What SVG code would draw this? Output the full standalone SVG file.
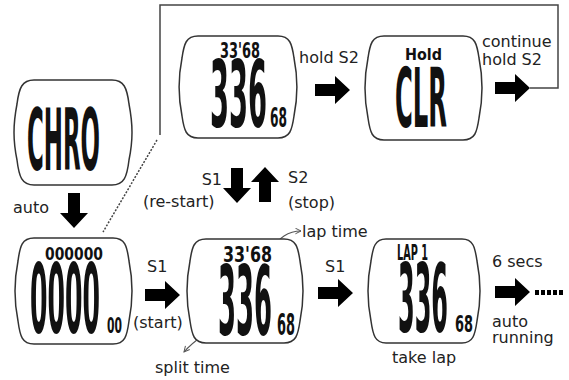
<svg xmlns="http://www.w3.org/2000/svg" width="569" height="380" viewBox="0 0 569 380">
<style>
.scr{fill:#fff;stroke:#333;stroke-width:1.5}
.lcd{font-family:"DejaVu Sans Condensed","DejaVu Sans",sans-serif;font-weight:bold;fill:#111}
.lbl{font-family:"DejaVu Sans","Liberation Sans",sans-serif;font-size:16px;fill:#222}
.ln{fill:none;stroke:#444;stroke-width:1.5}
.thin{fill:none;stroke:#555;stroke-width:1.1}
</style>
<defs>
<path id="ar" d="M0,-6 H20 V-14 L35,0 L20,14 V6 H0 Z" fill="#000"/>
<marker id="mh" viewBox="0 0 10 10" refX="9" refY="5" markerWidth="7" markerHeight="7" orient="auto" markerUnits="userSpaceOnUse">
<path d="M1,1 L9,5 L1,9" fill="none" stroke="#555" stroke-width="1.4"/>
</marker>
</defs>
<rect width="569" height="380" fill="#fff"/>

<g id="connectors">
<path class="ln" d="M160,135 V5 H558 V88 H530"/>
<path class="ln" d="M157,140 L103,232" stroke-dasharray="2 1.5"/>
<use href="#ar" transform="translate(74,193) rotate(90)"/>
<use href="#ar" transform="translate(145,295)"/>
<use href="#ar" transform="translate(315,90)"/>
<use href="#ar" transform="translate(495,88)"/>
<use href="#ar" transform="translate(318,293)"/>
<use href="#ar" transform="translate(495,292)"/>
<use href="#ar" transform="translate(237,168) rotate(90)"/>
<use href="#ar" transform="translate(265,202) rotate(-90)"/>
<path d="M535,292.5 H565" stroke="#000" stroke-width="5" stroke-dasharray="4 2"/>
<path class="thin" d="M273,250 C277,238 289,231 301,231" marker-end="url(#mh)"/>
<path class="thin" d="M218,324 C206,334 194,340 184,352" marker-end="url(#mh)"/>
</g>

<g id="chro">
<path class="scr" d="M34,80 H112 C124,80 127,88 129,104 C133,125 133,140 129,160 C127,177 124,185 112,185 H34 C22,185 19,177 17,160 C13,140 13,125 17,104 C19,88 22,80 34,80 Z"/>
<text class="lcd" transform="translate(27,170) scale(0.2956,1)" font-size="86" textLength="247" lengthAdjust="spacingAndGlyphs">CHRO</text>
</g>

<g id="running-top">
<path class="scr" d="M198,36 H278 C290,36 292,44 294,58 C298,78 298,96 294,116 C292,130 290,138 278,138 H198 C186,138 184,130 182,116 C178,96 178,78 182,58 C184,44 186,36 198,36 Z"/>
<text class="lcd" transform="translate(220,58) scale(0.692,1)" font-size="20.6" textLength="57.8" lengthAdjust="spacingAndGlyphs">33'68</text>
<text class="lcd" transform="translate(210,127) scale(0.33,1)" font-size="92" textLength="172.7" lengthAdjust="spacingAndGlyphs">336</text>
<text class="lcd" transform="translate(270,127) scale(0.503,1)" font-size="27" textLength="33.8" lengthAdjust="spacingAndGlyphs">68</text>
</g>

<g id="hold-clr">
<path class="scr" d="M384,36 H463 C475,36 477,44 479,58 C483,78 483,98 479,118 C477,132 475,140 463,140 H384 C372,140 370,132 368,118 C364,98 364,78 368,58 C370,44 372,36 384,36 Z"/>
<text class="lcd" transform="translate(405,60) scale(0.966,1)" font-size="16.5" textLength="38.3" lengthAdjust="spacingAndGlyphs">Hold</text>
<text class="lcd" transform="translate(395,127) scale(0.329,1)" font-size="82" textLength="158" lengthAdjust="spacingAndGlyphs">CLR</text>
</g>

<g id="zero">
<path class="scr" d="M34,238 H113 C125,238 127,246 129,261 C133,281 133,301 129,321 C127,336 125,344 113,344 H34 C22,344 20,336 18,321 C14,301 14,281 18,261 C20,246 22,238 34,238 Z"/>
<text class="lcd" transform="translate(45,260) scale(0.858,1)" font-size="18" textLength="67.6" lengthAdjust="spacingAndGlyphs">000000</text>
<text class="lcd" transform="translate(30,333) scale(0.291,1)" font-size="96" textLength="240.5" lengthAdjust="spacingAndGlyphs">0000</text>
<text class="lcd" transform="translate(107,333) scale(0.545,1)" font-size="22" textLength="27.5" lengthAdjust="spacingAndGlyphs">00</text>
</g>

<g id="running-bottom">
<path class="scr" d="M206,239 H284 C296,239 298,247 300,261 C304,281 304,301 300,321 C298,335 296,343 284,343 H206 C194,343 192,335 190,321 C186,301 186,281 190,261 C192,247 194,239 206,239 Z"/>
<text class="lcd" transform="translate(223,262) scale(0.848,1)" font-size="20.6" textLength="57.8" lengthAdjust="spacingAndGlyphs">33'68</text>
<text class="lcd" transform="translate(218,335) scale(0.2995,1)" font-size="96" textLength="180.3" lengthAdjust="spacingAndGlyphs">336</text>
<text class="lcd" transform="translate(277,335) scale(0.479,1)" font-size="30" textLength="37.6" lengthAdjust="spacingAndGlyphs">68</text>
</g>

<g id="lap">
<path class="scr" d="M386,239 H462 C473,239 475,247 477,261 C481,281 481,301 477,321 C475,335 473,343 462,343 H386 C375,343 373,335 371,321 C367,301 367,281 371,261 C373,247 375,239 386,239 Z"/>
<text class="lcd" transform="translate(397,260) scale(0.525,1)" font-size="20.6" textLength="59" lengthAdjust="spacingAndGlyphs">LAP 1</text>
<text class="lcd" transform="translate(398,332) scale(0.28,1)" font-size="95" textLength="178.6" lengthAdjust="spacingAndGlyphs">336</text>
<text class="lcd" transform="translate(455,332) scale(0.625,1)" font-size="23" textLength="28.8" lengthAdjust="spacingAndGlyphs">68</text>
</g>

<g id="labels">
<text class="lbl" x="13" y="213">auto</text>
<text class="lbl" x="147" y="272" font-size="17">S1</text>
<text class="lbl" x="133" y="328">(start)</text>
<text class="lbl" x="299" y="63">hold S2</text>
<text class="lbl" x="482" y="47">continue</text>
<text class="lbl" x="482" y="65">hold S2</text>
<text class="lbl" x="222" y="185" font-size="17" text-anchor="end">S1</text>
<text class="lbl" x="143" y="207" font-size="17">(re-start)</text>
<text class="lbl" x="288" y="183" font-size="17">S2</text>
<text class="lbl" x="288" y="208" font-size="17">(stop)</text>
<text class="lbl" x="302" y="237">lap time</text>
<text class="lbl" x="325" y="272" font-size="17">S1</text>
<text class="lbl" x="492" y="267">6 secs</text>
<text class="lbl" x="492" y="327">auto</text>
<text class="lbl" x="492" y="343">running</text>
<text class="lbl" x="392" y="363">take lap</text>
<text class="lbl" x="155" y="373">split time</text>
</g>
</svg>
